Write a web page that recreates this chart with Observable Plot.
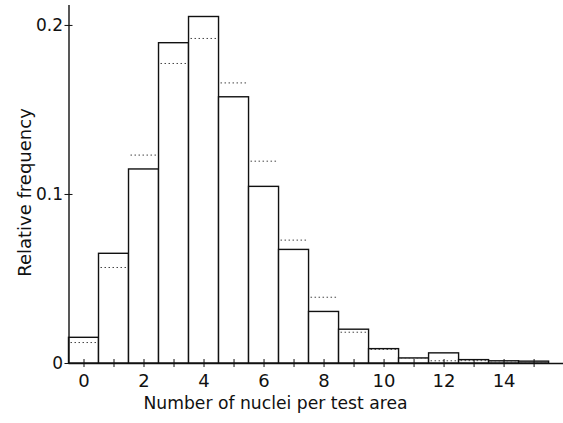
<!DOCTYPE html>
<html>
<head>
<meta charset="utf-8">
<script src="https://cdn.jsdelivr.net/npm/d3@7"></script>
<script src="https://cdn.jsdelivr.net/npm/@observablehq/plot@0.6"></script>
<style>
  html, body { margin: 0; padding: 0; background: #fff; }
  #chart svg { display: block; }
</style>
</head>
<body>
<div id="chart"></div>
<script>
// Number of nuclei per test area (categories)
const counts = [0, 1, 2, 3, 4, 5, 6, 7, 8, 9, 10, 11, 12, 13, 14, 15];
// Observed relative frequency (solid bars)
const observed = [0.0152, 0.0649, 0.1148, 0.1895, 0.2050, 0.1575, 0.1045, 0.0672, 0.0305, 0.0200, 0.0085, 0.0030, 0.0060, 0.0020, 0.0013, 0.0011];
// Expected relative frequency (dotted lines)
const expected = [0.0124, 0.0568, 0.1233, 0.1775, 0.1923, 0.1660, 0.1197, 0.0730, 0.0392, 0.0185, 0.0083, 0.0032, 0.0016, 0.0017, 0.0008, 0.0003];
// Tick labels
const xTickLabels = [0, 2, 4, 6, 8, 10, 12, 14];
const yTickLabels = [0, 0.1, 0.2];
const xTitle = "Number of nuclei per test area";
const yTitle = "Relative frequency";

const data = counts.map((k, i) => ({k, obs: observed[i], exp: expected[i]}));
const ink = "#111";

const chart = Plot.plot({
  width: 563,
  height: 423,
  marginLeft: 68.5,
  marginRight: 0,
  marginTop: 5,
  marginBottom: 60,
  x: {domain: [-0.5, 15.98], axis: null},
  y: {domain: [0, 0.2118], axis: null},
  style: {fontFamily: "DejaVu Sans", background: "#fff", color: ink},
  marks: [
    Plot.rect(data, {x1: d => d.k - 0.5, x2: d => d.k + 0.5, y1: 0, y2: "obs", fill: "#fff", stroke: ink, strokeWidth: 1.4}),
    Plot.ruleY(data, {x1: d => d.k - 0.5, x2: d => d.k + 0.5, y: "exp", stroke: "#444", strokeWidth: 1, strokeDasharray: "1.5,2.5", insetLeft: 2, insetRight: 2}),
    Plot.ruleY([0], {stroke: ink, strokeWidth: 1.4}),
    Plot.ruleX([-0.5], {stroke: ink, strokeWidth: 1.4}),
    Plot.axisX(counts, {tickSize: 8, dy: -4, tickFormat: () => "", label: null, stroke: ink}),
    Plot.axisX(xTickLabels, {tickSize: 0, tickPadding: 11, fontSize: 18, label: null, fill: ink}),
    Plot.axisY(yTickLabels, {tickSize: 8, dx: 4, tickPadding: 2, fontSize: 17, label: null, tickFormat: d => String(d), stroke: ink, fill: ink}),
    Plot.text([xTitle], {frameAnchor: "bottom-left", dx: 275 - 68.5, dy: 45, textAnchor: "middle", fontSize: 17.2, fill: ink}),
    Plot.text([yTitle], {frameAnchor: "left", rotate: -90, dx: -44, dy: 8, textAnchor: "middle", fontSize: 18, fill: ink})
  ]
});
document.getElementById("chart").appendChild(chart);
</script>
</body>
</html>
